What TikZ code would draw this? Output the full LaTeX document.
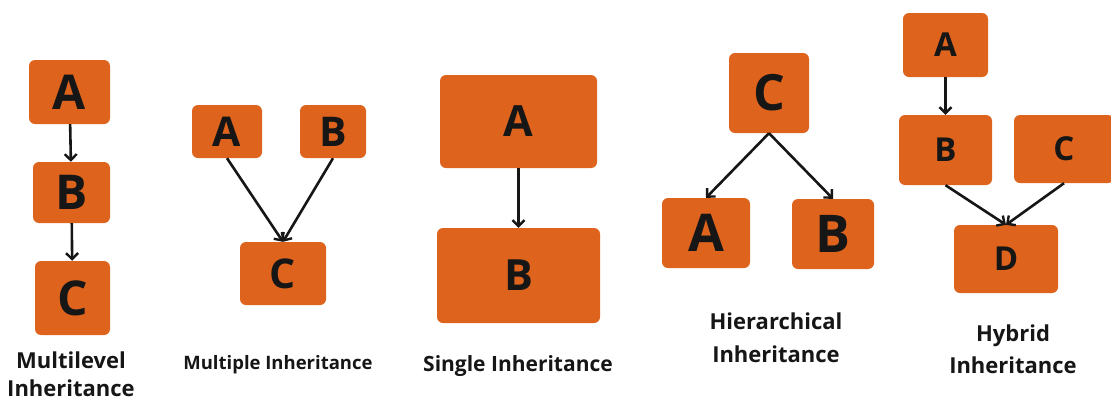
\documentclass[tikz,border=0pt]{standalone}
\usepackage{fontspec}
\setmainfont{Open Sans}
\usetikzlibrary{arrows.meta}
\definecolor{boxorange}{RGB}{222,100,30}
\definecolor{inktext}{RGB}{22,22,22}

\begin{document}
\begin{tikzpicture}[x=1pt,y=-1pt,
    box/.style={fill=boxorange, rounded corners=6pt, inner sep=0pt, text=inktext},
    link/.style={-{Straight Barb[length=6pt,width=12pt,line width=2.4pt]}, line width=2.6pt, draw=inktext},
    caption/.style={align=center, text=inktext}]
    \useasboundingbox (0,0) rectangle (1111,400);

    % Multilevel inheritance
    \node[box, minimum width=81, minimum height=64, font=\bfseries\fontsize{48}{48}\selectfont] (mA) at (69.5,92) {A};
    \node[box, minimum width=77, minimum height=61, font=\bfseries\fontsize{48}{48}\selectfont] (mB) at (71.5,192.5) {B};
    \node[box, minimum width=75, minimum height=74, font=\bfseries\fontsize{48}{48}\selectfont] (mC) at (72.5,298) {C};
    \draw[link] (mA) -- (mB);
    \draw[link] (mB) -- (mC);
    \node[caption, font=\bfseries\fontsize{22}{28}\selectfont] (mcap) at (71,374) {Multilevel\\Inheritance};

    % Multiple inheritance
    \node[box, minimum width=70, minimum height=53, font=\bfseries\fontsize{41}{41}\selectfont] (pA) at (227,131.5) {A};
    \node[box, minimum width=66, minimum height=53, font=\bfseries\fontsize{41}{41}\selectfont] (pB) at (333,131.5) {B};
    \node[box, minimum width=86, minimum height=63, font=\bfseries\fontsize{41}{41}\selectfont] (pC) at (283,273.5) {C};
    \draw[link] (pA.south) -- (pC.north);
    \draw[link] (pB.south) -- (pC.north);
    \node[caption, font=\bfseries\fontsize{18.5}{22}\selectfont] (pcap) at (278,365) {Multiple Inheritance};

    % Single inheritance
    \node[box, minimum width=157, minimum height=93, font=\bfseries\fontsize{43}{43}\selectfont] (sA) at (518.5,121.5) {A};
    \node[box, minimum width=163, minimum height=95, font=\bfseries\fontsize{43}{43}\selectfont] (sB) at (518.5,275.5) {B};
    \draw[link] (sA) -- (sB);
    \node[caption, font=\bfseries\fontsize{21}{24}\selectfont] (scap) at (518,366) {Single Inheritance};

    % Hierarchical inheritance
    \node[box, minimum width=80, minimum height=80, font=\bfseries\fontsize{50}{50}\selectfont] (hC) at (769,93) {C};
    \node[box, minimum width=88, minimum height=70, font=\bfseries\fontsize{52}{52}\selectfont] (hA) at (706,233) {A};
    \node[box, minimum width=82, minimum height=70, font=\bfseries\fontsize{52}{52}\selectfont] (hB) at (833,234) {B};
    \draw[link] (hC.south) -- (hA.north);
    \draw[link] (hC.south) -- (hB.north);
    \node[caption, font=\bfseries\fontsize{22}{33}\selectfont] (hcap) at (776,338) {Hierarchical\\Inheritance};

    % Hybrid inheritance
    \node[box, minimum width=85, minimum height=64, font=\bfseries\fontsize{33}{33}\selectfont] (yA) at (945.5,45) {A};
    \node[box, minimum width=93, minimum height=70, font=\bfseries\fontsize{33}{33}\selectfont] (yB) at (945.5,150) {B};
    \node[box, minimum width=100, minimum height=68, font=\bfseries\fontsize{33}{33}\selectfont] (yC) at (1064,149) {C};
    \node[box, minimum width=104, minimum height=68, font=\bfseries\fontsize{33}{33}\selectfont] (yD) at (1006,259) {D};
    \draw[link] (yA) -- (yB);
    \draw[link] (yB.south) -- (yD.north);
    \draw[link] (yC.south) -- (yD.north);
    \node[caption, font=\bfseries\fontsize{22}{32}\selectfont] (ycap) at (1013,349) {Hybrid\\Inheritance};
\end{tikzpicture}
\end{document}
